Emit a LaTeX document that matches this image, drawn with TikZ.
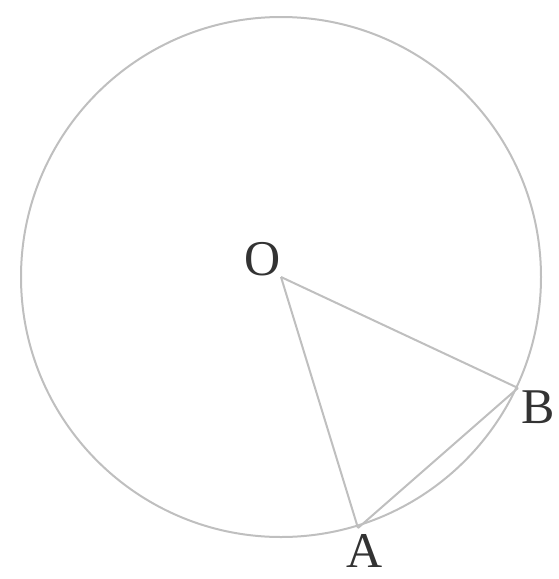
\documentclass[tikz,border=0pt]{standalone}
\usepackage{fontspec}
\setmainfont{Liberation Serif}
\begin{document}
\begin{tikzpicture}[x=1pt,y=-1pt,
  geo/.style={draw=black!25,line width=2pt},
  lbl/.style={font=\fontsize{50}{50}\selectfont,text=black!80,inner sep=0pt}]
\useasboundingbox (0,0) rectangle (559,579);
\coordinate (O) at (281,277);
\coordinate (A) at (358,528);
\coordinate (B) at (518,388);
\draw[geo] (O) circle[radius=260];
\draw[geo] (O) -- (A);
\draw[geo] (O) -- (B);
\draw[geo] (A) -- (B);
\node[lbl] (lO) at (263,259) {O};
\node[lbl] (lB) at (538,407) {B};
\node[lbl] (lA) at (365,551) {A};
\end{tikzpicture}
\end{document}
